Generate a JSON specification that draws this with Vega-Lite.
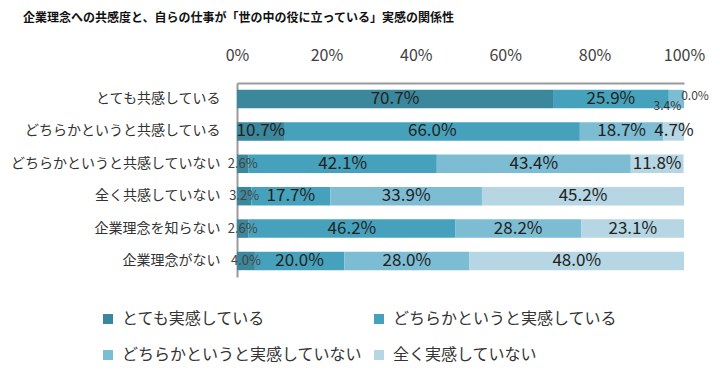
{
  "$schema": "https://vega.github.io/schema/vega-lite/v6.json",
  "width": 447,
  "height": 194,
  "autosize": {"type": "none"},
  "padding": {"left": 237, "top": 83, "right": 36, "bottom": 93},
  "background": "white",
  "config": {"font": "Noto Sans CJK JP", "view": {"stroke": null}},
  "title": {
    "text": "企業理念への共感度と、自らの仕事が「世の中の役に立っている」実感の関係性",
    "anchor": "start",
    "frame": "group",
    "dx": -214,
    "offset": 22,
    "fontSize": 12,
    "fontWeight": "bold",
    "color": "#111111",
    "font": "Noto Sans CJK JP"
  },
  "data": {
    "values": [
      {"row": "とても共感している", "resp": "とても実感している", "k": 1, "v": 0.707},
      {"row": "とても共感している", "resp": "どちらかというと実感している", "k": 2, "v": 0.259},
      {"row": "とても共感している", "resp": "どちらかというと実感していない", "k": 3, "v": 0.034},
      {"row": "とても共感している", "resp": "全く実感していない", "k": 4, "v": 0.0},
      {"row": "どちらかというと共感している", "resp": "とても実感している", "k": 1, "v": 0.107},
      {"row": "どちらかというと共感している", "resp": "どちらかというと実感している", "k": 2, "v": 0.660},
      {"row": "どちらかというと共感している", "resp": "どちらかというと実感していない", "k": 3, "v": 0.187},
      {"row": "どちらかというと共感している", "resp": "全く実感していない", "k": 4, "v": 0.047},
      {"row": "どちらかというと共感していない", "resp": "とても実感している", "k": 1, "v": 0.026},
      {"row": "どちらかというと共感していない", "resp": "どちらかというと実感している", "k": 2, "v": 0.421},
      {"row": "どちらかというと共感していない", "resp": "どちらかというと実感していない", "k": 3, "v": 0.434},
      {"row": "どちらかというと共感していない", "resp": "全く実感していない", "k": 4, "v": 0.118},
      {"row": "全く共感していない", "resp": "とても実感している", "k": 1, "v": 0.032},
      {"row": "全く共感していない", "resp": "どちらかというと実感している", "k": 2, "v": 0.177},
      {"row": "全く共感していない", "resp": "どちらかというと実感していない", "k": 3, "v": 0.339},
      {"row": "全く共感していない", "resp": "全く実感していない", "k": 4, "v": 0.452},
      {"row": "企業理念を知らない", "resp": "とても実感している", "k": 1, "v": 0.026},
      {"row": "企業理念を知らない", "resp": "どちらかというと実感している", "k": 2, "v": 0.462},
      {"row": "企業理念を知らない", "resp": "どちらかというと実感していない", "k": 3, "v": 0.282},
      {"row": "企業理念を知らない", "resp": "全く実感していない", "k": 4, "v": 0.231},
      {"row": "企業理念がない", "resp": "とても実感している", "k": 1, "v": 0.040},
      {"row": "企業理念がない", "resp": "どちらかというと実感している", "k": 2, "v": 0.200},
      {"row": "企業理念がない", "resp": "どちらかというと実感していない", "k": 3, "v": 0.280},
      {"row": "企業理念がない", "resp": "全く実感していない", "k": 4, "v": 0.480}
    ]
  },
  "transform": [
    {"stack": "v", "groupby": ["row"], "sort": [{"field": "k", "order": "ascending"}], "as": ["x0", "x1"]},
    {"calculate": "(datum.x0 + datum.x1) / 2", "as": "xm"}
  ],
  "encoding": {
    "y": {
      "field": "row",
      "type": "nominal",
      "sort": ["とても共感している", "どちらかというと共感している", "どちらかというと共感していない", "全く共感していない", "企業理念を知らない", "企業理念がない"],
      "scale": {"paddingInner": 0.43, "paddingOuter": 0.21},
      "axis": {
        "title": null,
        "ticks": false,
        "domainColor": "#9a9a9a",
        "domainWidth": 2,
        "labelFontSize": 14,
        "labelPadding": 17,
        "labelColor": "#333333",
        "labelFont": "Noto Sans CJK JP",
        "labelLimit": 300
      }
    }
  },
  "layer": [
    {
      "mark": {"type": "bar"},
      "encoding": {
        "x": {
          "field": "x0",
          "type": "quantitative",
          "scale": {"domain": [0, 1], "clamp": true},
          "axis": {
            "orient": "top",
            "title": null,
            "values": [0, 0.2, 0.4, 0.6, 0.8, 1],
            "format": ".0%",
            "labelFlush": false,
            "ticks": false,
            "grid": false,
            "domainColor": "#9a9a9a",
            "domainWidth": 2,
            "labelPadding": 20,
            "labelFontSize": 16,
            "labelColor": "#404040",
            "labelFont": "Noto Sans CJK JP"
          }
        },
        "x2": {"field": "x1"},
        "color": {
          "field": "resp",
          "type": "nominal",
          "scale": {
            "domain": ["とても実感している", "どちらかというと実感している", "どちらかというと実感していない", "全く実感していない"],
            "range": ["#3b879b", "#46a2bc", "#7dbdd3", "#b5d6e2"]
          },
          "legend": {
            "orient": "none",
            "legendX": -137,
            "legendY": 228,
            "direction": "horizontal",
            "columns": 2,
            "title": null,
            "symbolType": "square",
            "symbolSize": 100,
            "symbolStrokeWidth": 0,
            "labelFontSize": 16,
            "labelColor": "#333333",
            "labelFont": "Noto Sans CJK JP",
            "labelOffset": 6,
            "labelLimit": 300,
            "rowPadding": 20,
            "columnPadding": 8
          }
        }
      }
    },
    {
      "transform": [{"filter": "datum.v >= 0.045"}],
      "mark": {"type": "text", "fontSize": 17, "color": "#222222", "font": "Noto Sans CJK JP"},
      "encoding": {
        "x": {"field": "xm", "type": "quantitative"},
        "text": {"field": "v", "type": "quantitative", "format": ".1%"}
      }
    },
    {
      "transform": [{"filter": "datum.v < 0.045 && datum.row != 'とても共感している'"}],
      "mark": {"type": "text", "fontSize": 13, "color": "#444444", "font": "Noto Sans CJK JP"},
      "encoding": {
        "x": {"field": "xm", "type": "quantitative"},
        "text": {"field": "v", "type": "quantitative", "format": ".1%"}
      }
    },
    {
      "transform": [{"filter": "datum.row == 'とても共感している' && datum.k == 3"}],
      "mark": {"type": "text", "fontSize": 12, "color": "#333333", "dx": -9, "dy": 7, "font": "Noto Sans CJK JP"},
      "encoding": {
        "x": {"field": "xm", "type": "quantitative"},
        "text": {"field": "v", "type": "quantitative", "format": ".1%"}
      }
    },
    {
      "transform": [{"filter": "datum.row == 'とても共感している' && datum.k == 4"}],
      "mark": {"type": "text", "fontSize": 12, "color": "#444444", "dx": 11, "dy": -3, "font": "Noto Sans CJK JP"},
      "encoding": {
        "x": {"field": "xm", "type": "quantitative"},
        "text": {"field": "v", "type": "quantitative", "format": ".1%"}
      }
    }
  ]
}
